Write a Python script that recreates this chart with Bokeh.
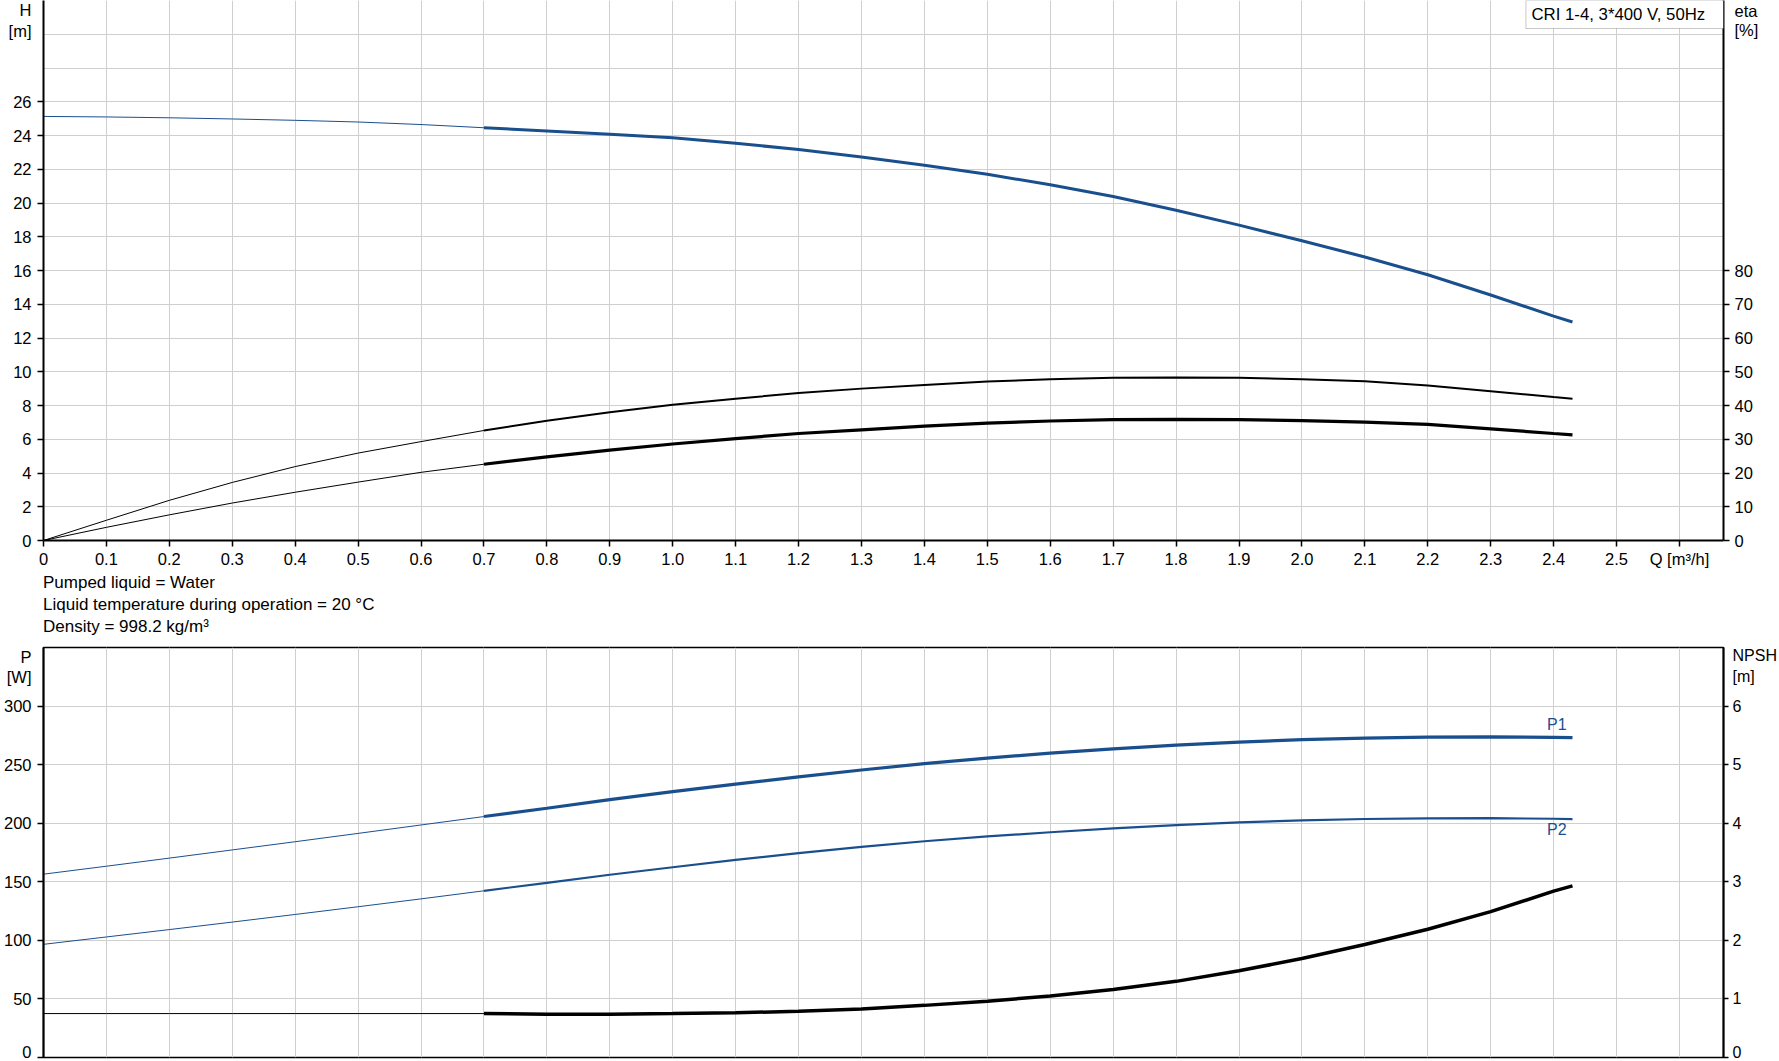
from bokeh.plotting import figure
from bokeh.layouts import column
from bokeh.models import Range1d, LinearAxis, FixedTicker, Label, BoxAnnotation, Div
from bokeh.embed import file_html
from bokeh.resources import INLINE

# flow rate Q [m3/h]
q = [0.0, 0.1, 0.2, 0.3, 0.4, 0.5, 0.6, 0.7, 0.8, 0.9, 1.0, 1.1, 1.2,
     1.3, 1.4, 1.5, 1.6, 1.7, 1.8, 1.9, 2.0, 2.1, 2.2, 2.3, 2.4, 2.43]

# head H [m]
head = [25.13, 25.10, 25.05, 24.98, 24.90, 24.80, 24.65, 24.46, 24.27, 24.08, 23.86, 23.54, 23.17,
        22.73, 22.24, 21.70, 21.08, 20.38, 19.57, 18.69, 17.76, 16.80, 15.75, 14.55, 13.30, 12.95]

# efficiencies [%]
eta_pump = [0.0, 6.0, 11.9, 17.2, 21.9, 25.9, 29.3, 32.6, 35.5, 38.0, 40.2, 42.0, 43.7,
            45.0, 46.1, 47.1, 47.8, 48.2, 48.3, 48.2, 47.8, 47.2, 45.9, 44.2, 42.5, 42.0]
eta_total = [0.0, 3.9, 7.6, 11.1, 14.3, 17.3, 20.2, 22.6, 24.8, 26.8, 28.6, 30.2, 31.7,
             32.8, 33.9, 34.8, 35.4, 35.8, 35.9, 35.8, 35.5, 35.1, 34.4, 33.1, 31.7, 31.3]

# power [W]
p1 = [156.5, 163.3, 170.2, 177.2, 184.2, 191.3, 198.5, 205.7, 212.8, 220.2, 227.0, 233.3, 239.5,
      245.4, 250.9, 255.6, 259.8, 263.5, 266.7, 269.3, 271.3, 272.7, 273.5, 273.7, 273.3, 273.1]
p2 = [96.6, 102.9, 109.2, 115.6, 122.1, 128.7, 135.4, 142.3, 149.1, 156.0, 162.4, 168.7, 174.4,
      179.8, 184.6, 188.7, 192.3, 195.6, 198.4, 200.7, 202.4, 203.6, 204.2, 204.3, 203.8, 203.5]

# NPSH [m]
npsh = [0.75, 0.75, 0.75, 0.75, 0.75, 0.75, 0.75, 0.75, 0.74, 0.74, 0.75, 0.763, 0.79,
        0.83, 0.89, 0.96, 1.05, 1.16, 1.30, 1.48, 1.69, 1.93, 2.19, 2.49, 2.84, 2.93]

q_ticks = [round(i * 0.1, 1) for i in range(27)]
q_labels = {t: ("0" if t == 0 else "%.1f" % t) for t in q_ticks}
q_labels[2.6] = "Q [m³/h]"
h_ticks = list(range(0, 28, 2))
h_grid = list(range(0, 32, 2))
eta_ticks = list(range(0, 90, 10))
p_ticks = list(range(0, 350, 50))
npsh_ticks = list(range(0, 7))

# unit captions sit on the axes, next to the top of each frame
h_caption = {31.43: "H", 30.22: "[m]"}
eta_caption = {157.0: "eta", 151.3: "[%]"}
p_caption = {341.7: "P", 325.2: "[W]"}
npsh_caption = {6.864: "NPSH", 6.504: "[m]"}

BLUE = "#1a4f8e"
FONT = "Liberation Sans"
FS = "16.5px"
Q_MAX = 2.67
H_TOP = 32
P_TOP = 350

k = q.index(0.7)  # duty range starts here, thin line before


def style_axis(ax, ticks, captions=None, size=FS, standoff=6, tick_out=6):
    labels = {float(t): str(t) for t in ticks}
    if captions:
        labels.update(captions)
        # tick marks only on the numbered ticks, captions carry none
        ax.ticker = FixedTicker(ticks=sorted(labels), minor_ticks=ticks)
        ax.major_tick_line_color = None
        ax.minor_tick_line_color = "black"
        ax.minor_tick_line_width = 1.5
        ax.minor_tick_in = 0
        ax.minor_tick_out = tick_out
    else:
        ax.ticker = FixedTicker(ticks=ticks)
        ax.major_tick_line_color = "black"
        ax.minor_tick_line_color = None
    ax.major_label_overrides = labels
    ax.axis_line_color = "black"
    ax.axis_line_width = 2
    ax.major_tick_line_width = 1.5
    ax.major_tick_in = 0
    ax.major_tick_out = tick_out
    ax.major_label_standoff = standoff
    ax.major_label_text_font = FONT
    ax.major_label_text_font_size = size
    ax.major_label_text_color = "black"


def note(fig, x, y, text, size=FS, color="black", align="center"):
    fig.add_layout(Label(x=x, y=y, text=text, text_font=FONT, text_font_size=size,
                         text_color=color, text_align=align, text_baseline="middle"))


def curve(fig, ys, color, width, y_range_name="default"):
    fig.line(q[:k + 1], ys[:k + 1], line_color=color, line_width=1, y_range_name=y_range_name)
    fig.line(q[k:], ys[k:], line_color=color, line_width=width, y_range_name=y_range_name)


def style_grid(fig, yt):
    fig.xgrid.ticker = FixedTicker(ticks=q_ticks)
    fig.ygrid.ticker = FixedTicker(ticks=yt)
    for g in (fig.xgrid, fig.ygrid):
        g.grid_line_color = "#cfcfcf"
        g.grid_line_width = 1


# ---- upper chart: head and efficiency
top = figure(width=1779, height=570, x_range=Range1d(0, Q_MAX), y_range=Range1d(0, H_TOP),
             output_backend="svg", toolbar_location=None,
             min_border_left=40, min_border_right=54, min_border_top=0, min_border_bottom=30)
top.outline_line_color = None
top.extra_y_ranges = {"eta": Range1d(0, H_TOP * 5)}
top.add_layout(LinearAxis(y_range_name="eta"), "right")

style_axis(top.xaxis[0], q_ticks, standoff=3)
top.xaxis[0].major_label_overrides = q_labels
style_axis(top.yaxis[0], h_ticks, h_caption)
style_axis(top.yaxis[1], eta_ticks, eta_caption, standoff=5)
style_grid(top, h_grid)

curve(top, head, BLUE, 3)
curve(top, eta_pump, "black", 2, "eta")
curve(top, eta_total, "black", 3.2, "eta")

top.add_layout(BoxAnnotation(left=2.356, right=Q_MAX, bottom=30.34, top=H_TOP,
                             fill_color="white", fill_alpha=1, line_color="#444444",
                             line_width=1))
note(top, 2.641, 31.17, "CRI 1-4, 3*400 V, 50Hz", size="16.8px", align="right")

info = Div(text='<div style="padding-top:2px">Pumped liquid = Water<br>'
                'Liquid temperature during operation = 20 °C<br>'
                'Density = 998.2 kg/m³</div>',
           width=700, height=76, margin=(0, 0, 0, 43),
           styles={"font-family": FONT, "font-size": "17px", "line-height": "22px",
                   "color": "black"})

# ---- lower chart: power and NPSH
bot = figure(width=1779, height=414, x_range=Range1d(0, Q_MAX), y_range=Range1d(0, P_TOP),
             output_backend="svg", toolbar_location=None, x_axis_location=None,
             min_border_left=40, min_border_right=54, min_border_top=1, min_border_bottom=3)
bot.outline_line_color = "black"
bot.outline_line_width = 1.5
bot.extra_y_ranges = {"npsh": Range1d(0, P_TOP / 50)}
bot.add_layout(LinearAxis(y_range_name="npsh"), "right")

style_axis(bot.yaxis[0], p_ticks, p_caption, standoff=6)
style_axis(bot.yaxis[1], npsh_ticks, npsh_caption, size="16px", standoff=4, tick_out=5)
style_grid(bot, p_ticks)

curve(bot, p1, BLUE, 3.2)
curve(bot, p2, BLUE, 2.2)
curve(bot, npsh, "black", 3.5, "npsh")

note(bot, 2.405, 284, "P1", size="16px", color=BLUE)
note(bot, 2.405, 194.3, "P2", size="16px", color=BLUE)

page = column(top, info, bot, spacing=0)
open("out.html", "w").write(file_html(page, INLINE))
